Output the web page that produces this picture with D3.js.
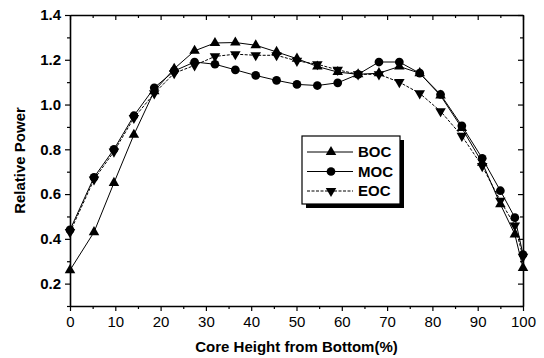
<!DOCTYPE html>
<html>
<head>
<meta charset="utf-8">
<script src="https://cdn.jsdelivr.net/npm/d3@7"></script>
<style>
  body { margin: 0; background: #fff; }
  svg { display: block; font-family: Arial, "Liberation Sans", sans-serif; }
  .tick text { fill: #000; }
</style>
</head>
<body>
<svg id="chart" width="544" height="358"></svg>
<script>
// Data
const heights = [0, 5.3, 9.7, 14.1, 18.6, 23.0, 27.5, 32.0, 36.5, 41.0, 45.6, 50.1,
  54.6, 59.1, 63.6, 68.2, 72.7, 77.2, 81.8, 86.5, 91.0, 95.0, 98.2, 100];
const boc = [0.26, 0.43, 0.65, 0.865, 1.06, 1.16, 1.24, 1.275, 1.277, 1.265, 1.235, 1.205,
  1.17, 1.145, 1.135, 1.14, 1.17, 1.14, 1.04, 0.895, 0.74, 0.555, 0.42, 0.27];
const moc = [0.44, 0.675, 0.80, 0.95, 1.075, 1.15, 1.19, 1.18, 1.155, 1.13, 1.108, 1.09,
  1.085, 1.097, 1.135, 1.19, 1.19, 1.14, 1.045, 0.905, 0.76, 0.615, 0.495, 0.33];
const eoc = [0.43, 0.665, 0.79, 0.94, 1.05, 1.14, 1.175, 1.215, 1.225, 1.22, 1.22, 1.195,
  1.18, 1.155, 1.135, 1.135, 1.10, 1.05, 0.97, 0.86, 0.725, 0.57, 0.46, 0.32];
const xTicks = [0, 10, 20, 30, 40, 50, 60, 70, 80, 90, 100];
const yTicks = [0.2, 0.4, 0.6, 0.8, 1.0, 1.2, 1.4];

const seriesList = [
  { name: 'BOC', values: boc, symbol: 'up', dash: null },
  { name: 'MOC', values: moc, symbol: 'circle', dash: null },
  { name: 'EOC', values: eoc, symbol: 'down', dash: '3,1.5' },
];

const svg = d3.select('#chart');
const plotLeft = 70, plotRight = 523, plotTop = 15, plotBottom = 306;

const x = d3.scaleLinear().domain([0, 100]).range([plotLeft, plotRight]);
const y = d3.scaleLinear().domain([0.1, 1.4]).range([plotBottom, plotTop]);

// minor ticks halfway between majors
const xMinor = d3.range(5, 100, 10);
const yMinor = d3.range(0.1, 1.4, 0.2);

// bottom axis (ticks outward)
const gx = svg.append('g').attr('transform', `translate(0,${plotBottom})`)
  .call(d3.axisBottom(x).tickValues(xTicks).tickFormat(d3.format('d')).tickSizeInner(5).tickSizeOuter(0));
gx.selectAll('.tick text').attr('font-size', 15).attr('dy', '0.85em').attr('y', 8);
svg.append('g').attr('transform', `translate(0,${plotBottom})`)
  .call(d3.axisBottom(x).tickValues(xMinor).tickFormat('').tickSizeInner(3).tickSizeOuter(0))
  .select('.domain').remove();

// left axis (ticks outward)
const gy = svg.append('g').attr('transform', `translate(${plotLeft},0)`)
  .call(d3.axisLeft(y).tickValues(yTicks).tickFormat(d3.format('.1f')).tickSizeInner(5).tickSizeOuter(0));
gy.selectAll('.tick text').attr('font-size', 15).attr('font-weight', 'bold').attr('x', -9);
svg.append('g').attr('transform', `translate(${plotLeft},0)`)
  .call(d3.axisLeft(y).tickValues(yMinor).tickFormat('').tickSizeInner(3).tickSizeOuter(0))
  .select('.domain').remove();

// top axis (ticks inward)
svg.append('g').attr('transform', `translate(0,${plotTop})`)
  .call(d3.axisTop(x).tickValues(xTicks).tickFormat('').tickSizeInner(-5).tickSizeOuter(0));
svg.append('g').attr('transform', `translate(0,${plotTop})`)
  .call(d3.axisTop(x).tickValues(xMinor).tickFormat('').tickSizeInner(-3).tickSizeOuter(0))
  .select('.domain').remove();

// right axis (ticks inward)
svg.append('g').attr('transform', `translate(${plotRight},0)`)
  .call(d3.axisRight(y).tickValues(yTicks).tickFormat('').tickSizeInner(-5).tickSizeOuter(0));
svg.append('g').attr('transform', `translate(${plotRight},0)`)
  .call(d3.axisRight(y).tickValues(yMinor).tickFormat('').tickSizeInner(-3).tickSizeOuter(0))
  .select('.domain').remove();

svg.selectAll('.domain').attr('stroke', '#000').attr('stroke-width', 1.6);
svg.selectAll('.tick line').attr('stroke', '#000').attr('stroke-width', 1.2);

// symbols
const symbolPath = (type) => {
  if (type === 'circle') return d3.symbol(d3.symbolCircle, 60)();
  return d3.symbol(d3.symbolTriangle, 48)();
};
const symbolRotate = (type) => type === 'down' ? ' rotate(180)' : '';

const line = d3.line()
  .x(d => x(d[0]))
  .y(d => y(d[1]));

seriesList.forEach(s => {
  const pts = heights.map((h, i) => [h, s.values[i]]);
  svg.append('path')
    .datum(pts)
    .attr('fill', 'none')
    .attr('stroke', '#000')
    .attr('stroke-width', 1)
    .attr('stroke-dasharray', s.dash)
    .attr('d', line);
  svg.append('g').selectAll('path')
    .data(pts)
    .join('path')
      .attr('d', symbolPath(s.symbol))
      .attr('transform', d => `translate(${x(d[0])},${y(d[1])})${symbolRotate(s.symbol)}`)
      .attr('fill', '#000');
});

// legend
const legend = svg.append('g').attr('transform', 'translate(302,136)');
legend.append('rect')
  .attr('x', 4).attr('y', 4).attr('width', 98).attr('height', 68)
  .attr('fill', '#000');
legend.append('rect')
  .attr('x', 0).attr('y', 0).attr('width', 98).attr('height', 68)
  .attr('fill', '#fff').attr('stroke', '#000').attr('stroke-width', 1.2);
seriesList.forEach((s, i) => {
  const row = legend.append('g').attr('transform', `translate(0,${16 + i * 19.5})`);
  row.append('line')
    .attr('x1', 5).attr('x2', 51).attr('y1', 0).attr('y2', 0)
    .attr('stroke', '#000').attr('stroke-width', 1)
    .attr('stroke-dasharray', s.dash);
  row.append('path')
    .attr('d', symbolPath(s.symbol))
    .attr('transform', `translate(29,0)${symbolRotate(s.symbol)}`)
    .attr('fill', '#000');
  row.append('text')
    .attr('x', 56).attr('y', 0).attr('dy', '0.36em')
    .attr('font-size', 15).attr('font-weight', 'bold')
    .text(s.name);
});

// axis titles
svg.append('text')
  .attr('x', (plotLeft + plotRight) / 2).attr('y', 352)
  .attr('text-anchor', 'middle')
  .attr('font-size', 15).attr('font-weight', 'bold')
  .text('Core Height from Bottom(%)');
svg.append('text')
  .attr('transform', `translate(25,${(plotTop + plotBottom) / 2}) rotate(-90)`)
  .attr('text-anchor', 'middle')
  .attr('font-size', 15).attr('font-weight', 'bold')
  .text('Relative Power');
</script>
</body>
</html>
